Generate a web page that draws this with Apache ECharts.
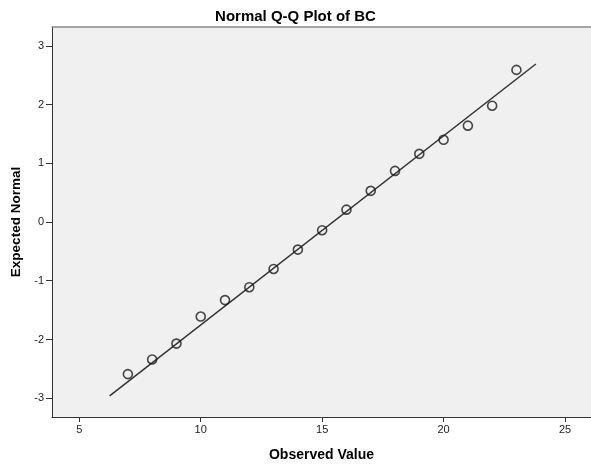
<!DOCTYPE html>
<html>
<head>
<meta charset="utf-8">
<script src="https://cdn.jsdelivr.net/npm/echarts@6/dist/echarts.min.js"></script>
<style>
  html, body { margin: 0; padding: 0; background: #fff; }
  #chart { width: 591px; height: 468px; }
</style>
</head>
<body>
<div id="chart"></div>
<script>
// Observed BC values and their expected normal scores
const observed = [7, 8, 9, 10, 11, 12, 13, 14, 15, 16, 17, 18, 19, 20, 21, 22, 23];
const expectedNormal = [-2.59, -2.34, -2.07, -1.61, -1.33, -1.11, -0.80, -0.47, -0.14, 0.21, 0.53, 0.87, 1.16, 1.40, 1.64, 1.98, 2.59];

// Reference line endpoints (observed value, expected normal)
const refLineX = [6.25, 23.8];
const refLineY = [-2.96, 2.69];

// Axis tick labels
const xTicks = [5, 10, 15, 20, 25];
const yTicks = [-3, -2, -1, 0, 1, 2, 3];

const font = 'Liberation Sans, Arial, sans-serif';

const chart = echarts.init(document.getElementById('chart'));

const points = observed.map((v, i) => [v, expectedNormal[i]]);
const refLine = refLineX.map((v, i) => [v, refLineY[i]]);

chart.setOption({
  animation: false,
  backgroundColor: '#ffffff',
  title: {
    text: 'Normal Q-Q Plot of BC',
    left: 'center',
    top: 4,
    textStyle: { fontFamily: font, fontSize: 15, fontWeight: 'bold', color: '#000' }
  },
  grid: {
    left: 52, right: 0, top: 27, bottom: 51,
    show: true, backgroundColor: '#f0f0f0', borderWidth: 0
  },
  xAxis: [{
    type: 'value',
    min: 3.876, max: 26.07,
    name: 'Observed Value',
    nameLocation: 'middle',
    nameGap: 31,
    nameTextStyle: { fontFamily: font, fontSize: 14, fontWeight: 'bold', color: '#000' },
    axisLine: { show: true, onZero: false, lineStyle: { color: '#333', width: 1 } },
    axisTick: { show: true, length: 5, customValues: xTicks, lineStyle: { color: '#333' } },
    axisLabel: { customValues: xTicks, fontFamily: font, fontSize: 11, color: '#222', margin: 7 },
    splitLine: { show: false }
  }, {
    type: 'value',
    position: 'top',
    min: 3.876, max: 26.07,
    axisLine: { show: true, onZero: false, lineStyle: { color: '#8a8a8a', width: 1.5 } },
    axisTick: { show: false },
    axisLabel: { show: false },
    splitLine: { show: false }
  }],
  yAxis: {
    type: 'value',
    min: -3.32, max: 3.32,
    name: 'Expected Normal',
    nameLocation: 'middle',
    nameGap: 27,
    nameTextStyle: { fontFamily: font, fontSize: 13.5, fontWeight: 'bold', color: '#000' },
    axisLine: { show: true, onZero: false, lineStyle: { color: '#333', width: 1 } },
    axisTick: { show: true, length: 6, customValues: yTicks, lineStyle: { color: '#333' } },
    axisLabel: { customValues: yTicks, fontFamily: font, fontSize: 11, color: '#222', margin: 8 },
    splitLine: { show: false }
  },
  series: [{
    type: 'line',
    data: refLine,
    symbol: 'none',
    lineStyle: { color: '#333', width: 1.5 },
    z: 2
  }, {
    type: 'scatter',
    data: points,
    symbol: 'circle',
    symbolSize: 9,
    itemStyle: { color: 'rgba(0,0,0,0)', borderColor: '#1a1a1a', borderWidth: 1.6 },
    z: 3
  }]
});
</script>
</body>
</html>
